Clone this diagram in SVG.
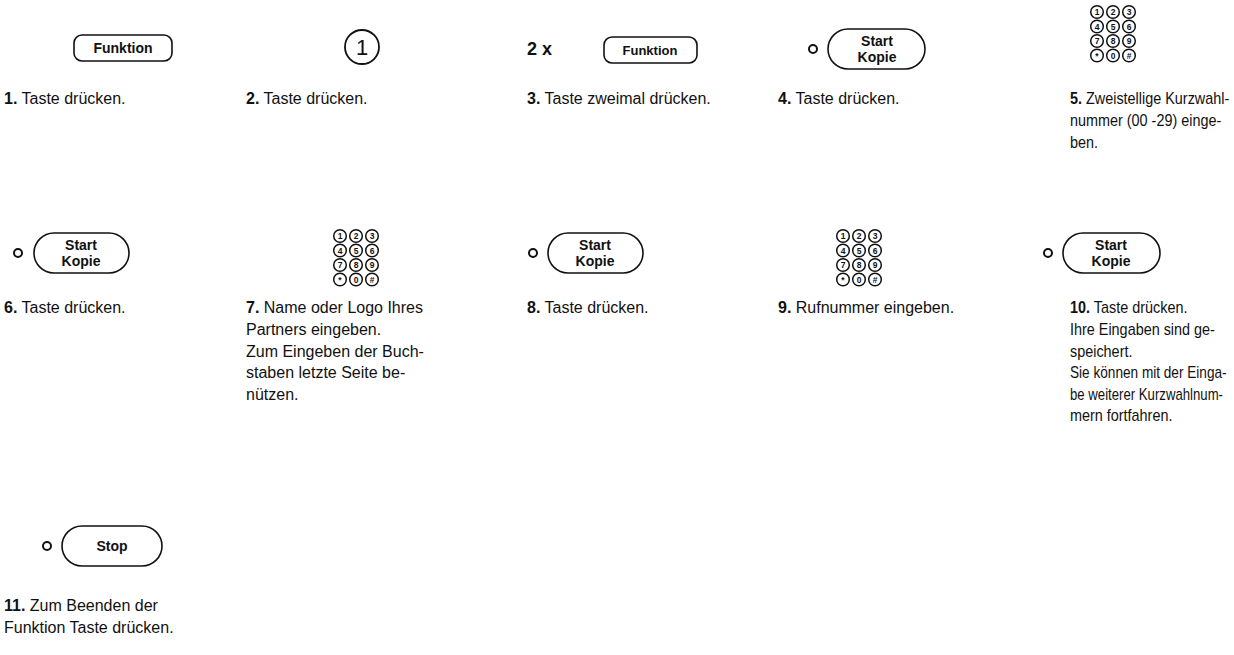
<svg xmlns="http://www.w3.org/2000/svg" width="1234" height="655" viewBox="0 0 1234 655">
<defs>
<style>
.bg{fill:#fff}
.btn{fill:#fff;stroke:#111;stroke-width:1.6}
.bt{font-family:"Liberation Sans",Arial,sans-serif;font-weight:bold;font-size:14px;fill:#111;text-anchor:middle}
.led{fill:none;stroke:#111;stroke-width:2}
.lbl{font-family:"Liberation Sans",Arial,sans-serif;font-size:16px;fill:#111}
.lbl tspan.n{font-weight:bold}
.kc{fill:#fff;stroke:#111;stroke-width:1.5}
.kt{font-family:"Liberation Sans",Arial,sans-serif;font-weight:bold;font-size:8.5px;fill:#111;text-anchor:middle}
</style>
<g id="keypad">
<circle class="kc" cx="0" cy="0" r="6.3"/><text class="kt" x="0" y="3">1</text>
<circle class="kc" cx="16" cy="0" r="6.3"/><text class="kt" x="16" y="3">2</text>
<circle class="kc" cx="32" cy="0" r="6.3"/><text class="kt" x="32" y="3">3</text>
<circle class="kc" cx="0" cy="14.5" r="6.3"/><text class="kt" x="0" y="17.5">4</text>
<circle class="kc" cx="16" cy="14.5" r="6.3"/><text class="kt" x="16" y="17.5">5</text>
<circle class="kc" cx="32" cy="14.5" r="6.3"/><text class="kt" x="32" y="17.5">6</text>
<circle class="kc" cx="0" cy="29" r="6.3"/><text class="kt" x="0" y="32">7</text>
<circle class="kc" cx="16" cy="29" r="6.3"/><text class="kt" x="16" y="32">8</text>
<circle class="kc" cx="32" cy="29" r="6.3"/><text class="kt" x="32" y="32">9</text>
<circle class="kc" cx="0" cy="43.5" r="6.3"/><text class="kt" x="0" y="46.5">*</text>
<circle class="kc" cx="16" cy="43.5" r="6.3"/><text class="kt" x="16" y="46.5">0</text>
<circle class="kc" cx="32" cy="43.5" r="6.3"/><text class="kt" x="32" y="46.5">#</text>
</g>
</defs>
<rect class="bg" x="0" y="0" width="1234" height="655"/>

<g id="step1">
<rect class="btn" x="74" y="35" width="98" height="26" rx="8"/>
<text class="bt" x="123" y="53">Funktion</text>
<text class="lbl" x="4" y="104"><tspan class="n">1.</tspan> Taste drücken.</text>
</g>

<g id="step2">
<circle class="btn" cx="362" cy="47" r="17" style="stroke-width:1.8"/>
<text class="bt" x="362" y="55" style="font-size:22px;font-weight:normal">1</text>
<text class="lbl" x="246" y="104"><tspan class="n">2.</tspan> Taste drücken.</text>
</g>

<g id="step3">
<text class="lbl" x="527" y="55" style="font-weight:bold;font-size:18px">2 x</text>
<rect class="btn" x="604" y="37" width="93" height="26" rx="8"/>
<text class="bt" x="650" y="55" style="font-size:13px">Funktion</text>
<text class="lbl" x="527" y="104"><tspan class="n">3.</tspan> Taste zweimal drücken.</text>
</g>

<g id="step4">
<circle class="led" cx="813" cy="49" r="4"/>
<rect class="btn" x="828" y="29" width="97" height="40" rx="20"/>
<text class="bt" x="877" y="46">Start</text>
<text class="bt" x="877" y="62">Kopie</text>
<text class="lbl" x="778" y="104"><tspan class="n">4.</tspan> Taste  drücken.</text>
</g>

<g id="step5">
<use href="#keypad" x="1097" y="12"/>
<g transform="translate(1070 0) scale(0.9 1)">
<text class="lbl" x="0" y="104"><tspan class="n">5.</tspan> Zweistellige Kurzwahl-</text>
<text class="lbl" x="0" y="126">nummer (00 -29) einge-</text>
<text class="lbl" x="0" y="148">ben.</text>
</g>
</g>

<g id="step6">
<circle class="led" cx="18" cy="253" r="4"/>
<rect class="btn" x="34" y="233" width="95" height="40" rx="20"/>
<text class="bt" x="81" y="250">Start</text>
<text class="bt" x="81" y="266">Kopie</text>
<text class="lbl" x="4" y="313"><tspan class="n">6.</tspan> Taste  drücken.</text>
</g>

<g id="step7">
<use href="#keypad" x="340" y="236"/>
<text class="lbl" x="246" y="313"><tspan class="n">7.</tspan> Name oder Logo Ihres</text>
<text class="lbl" x="246" y="335">Partners eingeben.</text>
<text class="lbl" x="246" y="357"> Zum Eingeben der Buch-</text>
<text class="lbl" x="246" y="378">staben letzte Seite be-</text>
<text class="lbl" x="246" y="400">nützen.</text>
</g>

<g id="step8">
<circle class="led" cx="533" cy="253" r="4"/>
<rect class="btn" x="548" y="233" width="95" height="40" rx="20"/>
<text class="bt" x="595" y="250">Start</text>
<text class="bt" x="595" y="266">Kopie</text>
<text class="lbl" x="527" y="313"><tspan class="n">8.</tspan> Taste  drücken.</text>
</g>

<g id="step9">
<use href="#keypad" x="843" y="236"/>
<text class="lbl" x="778" y="313"><tspan class="n">9.</tspan> Rufnummer eingeben.</text>
</g>

<g id="step10">
<circle class="led" cx="1048" cy="253" r="4"/>
<rect class="btn" x="1063" y="233" width="97" height="40" rx="20"/>
<text class="bt" x="1111" y="250">Start</text>
<text class="bt" x="1111" y="266">Kopie</text>
<g transform="translate(1070 0) scale(0.9 1)">
<text class="lbl" x="0" y="313"><tspan class="n">10.</tspan> Taste  drücken.</text>
<text class="lbl" x="0" y="335">Ihre Eingaben sind ge-</text>
<text class="lbl" x="0" y="357">speichert.</text>
<text class="lbl" x="0" y="378" textLength="174" lengthAdjust="spacingAndGlyphs">Sie können mit der Einga-</text>
<text class="lbl" x="0" y="400" textLength="170" lengthAdjust="spacingAndGlyphs">be weiterer Kurzwahlnum-</text>
<text class="lbl" x="0" y="421">mern fortfahren.</text>
</g>
</g>

<g id="step11">
<circle class="led" cx="47" cy="546" r="4"/>
<rect class="btn" x="62" y="526" width="100" height="40" rx="20"/>
<text class="bt" x="112" y="551">Stop</text>
<text class="lbl" x="4" y="611"><tspan class="n">11.</tspan>  Zum Beenden der</text>
<text class="lbl" x="4" y="633">Funktion Taste drücken.</text>
</g>
</svg>
